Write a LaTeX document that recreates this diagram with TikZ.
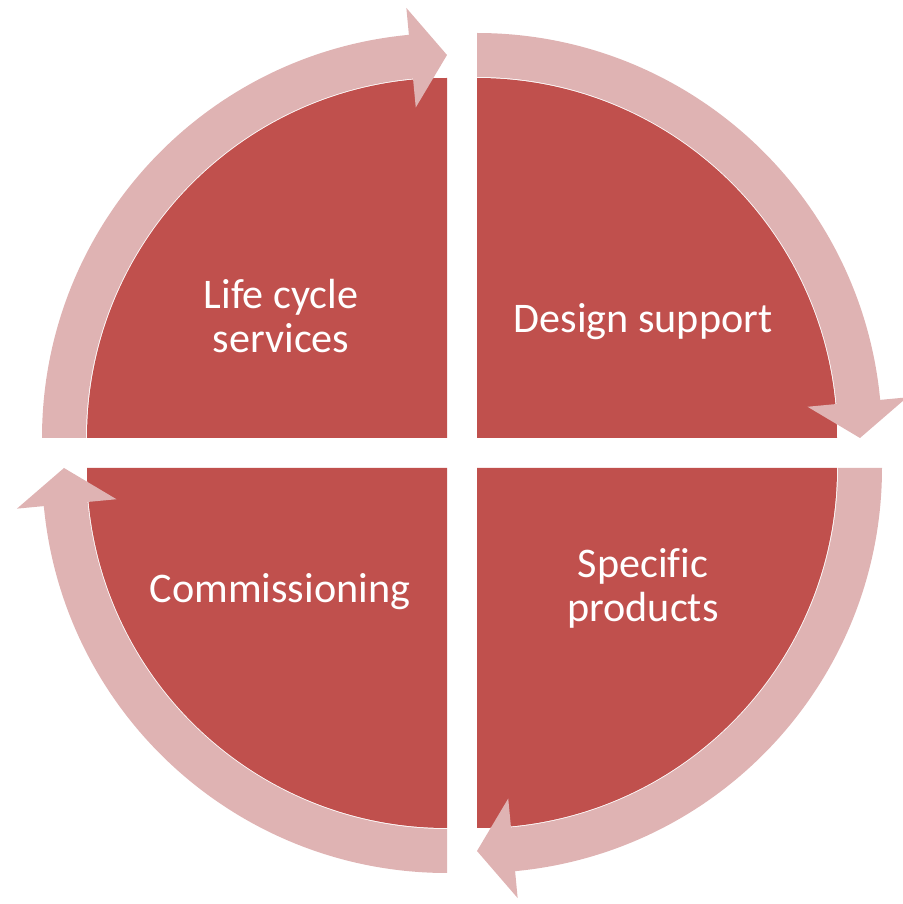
\documentclass[tikz,border=0pt]{standalone}
\usepackage{fontspec}
\setmainfont{Carlito}[Ligatures=NoCommon]
\usetikzlibrary{backgrounds}
\definecolor{secred}{HTML}{C0504D}
\definecolor{ringpink}{HTML}{DFB3B3}

\begin{document}
\begin{tikzpicture}[x=0.02cm,y=0.02cm,
		quarter/.pic = {\fill[secred] (0,0) -- (90:360) arc[start angle=90, end angle=0, radius=360] -- cycle;},
		cyclearrow/.pic = {\fill[ringpink] (90:405) arc[start angle=90, end angle=5.4, radius=405] -- (5.4:432) -- (0:383) -- (5.4:332) -- (5.4:361) arc[start angle=5.4, end angle=90, radius=361] -- cycle;}]
				\useasboundingbox (0,0) rectangle (903,904);
				\coordinate (TR) at (477,466);
				\coordinate (TL) at (447,466);
				\coordinate (BL) at (447,436);
				\coordinate (BR) at (477,436);
				\pic at (TR) {quarter};
				\pic[rotate=90] at (TL) {quarter};
				\pic[rotate=180] at (BL) {quarter};
				\pic[rotate=270] at (BR) {quarter};
				\pic at (TR) {cyclearrow};
				\pic[rotate=90] at (TL) {cyclearrow};
				\pic[rotate=180] at (BL) {cyclearrow};
				\pic[rotate=270] at (BR) {cyclearrow};
				\begin{scope}[every node/.style={text=white,align=center,anchor=base,inner sep=0pt,font=\fontsize{24}{25.6}\selectfont}]
					\node (life) at (281,551) {Life cycle\\services};
					\node (design) at (643,571) {Design support};
					\node (specific) at (643,282) {Specific\\products};
					\node (comm) at (280,301) {Commissioning};
				\end{scope}
			\end{tikzpicture}
\end{document}
